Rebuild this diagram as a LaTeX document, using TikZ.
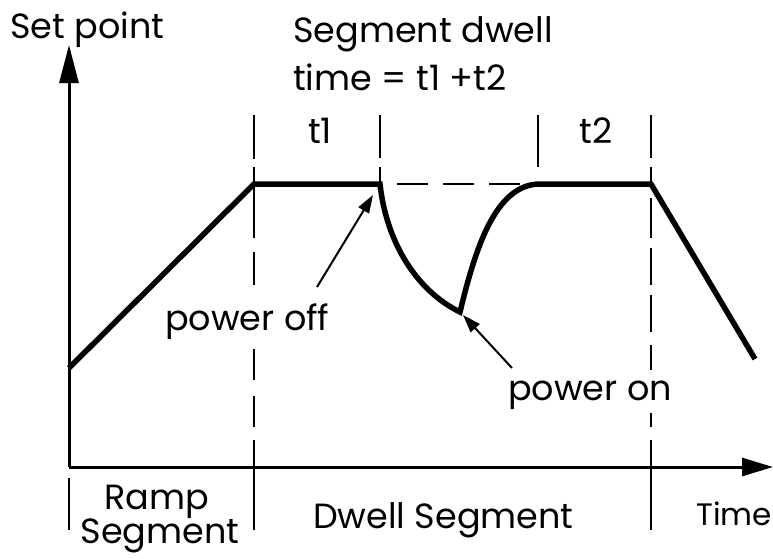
\documentclass[tikz,border=0pt]{standalone}
\usepackage{fontspec}
\setmainfont{Poppins}
\usetikzlibrary{arrows.meta}
\begin{document}
\begin{tikzpicture}[x=1pt,y=-1pt,
  lbl/.style={inner sep=0pt,font=\fontsize{35}{40}\selectfont},
  small/.style={inner sep=0pt,font=\fontsize{31}{36}\selectfont},
  curve/.style={line width=5.5pt,line join=miter,miter limit=20},
  axisline/.style={line width=3pt},
  guide/.style={line width=2.5pt},
  hdash/.style={line width=2.5pt,dash pattern=on 31pt off 15pt},
  callout/.style={line width=2pt,-{Triangle[length=18pt,width=12pt]}}]
\useasboundingbox (0,0) rectangle (773,558);
% axes
\coordinate (O) at (69,467);
\coordinate (ytip) at (69,45);
\coordinate (xtip) at (773,467);
\draw[axisline,-{Triangle[length=38pt,width=19pt]}] (O) -- (ytip);
\draw[axisline,-{Triangle[length=31pt,width=18pt]}] (O) -- (xtip);
\coordinate (rt) at (69,478);
\coordinate (rb) at (69,530);
\draw[guide] (rt) -- (rb);
% vertical guides
\foreach \a/\b in {115/159,167/238,252/285,349/380,396/427,440/530}
  \draw[guide] (254,\a) -- (254,\b);
\foreach \a/\b in {115/158,167/184}
  \draw[guide] (380,\a) -- (380,\b);
\draw[guide] (538,115) -- (538,167);
\foreach \a/\b in {115/158,167/184,198/238,248/285,295/332,345/370,413/427,440/530}
  \draw[guide] (651,\a) -- (651,\b);
% horizontal dashed
\coordinate (h1) at (397,184);
\coordinate (h2) at (522,184);
\draw[hdash] (h1) -- (h2);
% set point curve
\coordinate (c0) at (69,368);
\coordinate (c1) at (254,184);
\coordinate (c2) at (380,184);
\coordinate (c3) at (460,312);
\coordinate (c4) at (540,184);
\coordinate (c5) at (651,184);
\coordinate (c6) at (755,359);
\draw[curve] (c0) -- (c1) -- (c2) .. controls (386,240) and (415,290) .. (c3)
  .. controls (475,250) and (495,184) .. (c4) -- (c5) -- (c6);
% labels
\node[lbl,anchor=base west] (sp) at (10,38) {Set point};
\node[lbl,anchor=base west] (sd) at (293,42) {Segment dwell};
\node[lbl,anchor=base west] (tm) at (293,90) {time = t1 +t2};
\node[lbl,anchor=base] (t1) at (320,143) {t1};
\node[lbl,anchor=base] (t2) at (596,143) {t2};
\node[lbl,anchor=base west] (poff) at (165,330) {power off};
\node[lbl,anchor=base west] (pon) at (508,400) {power on};
\node[lbl,anchor=base] (ramp) at (157,509) {Ramp};
\node[lbl,anchor=base] (rseg) at (160,543) {Segment};
\node[lbl,anchor=base west] (dseg) at (313,528) {Dwell Segment};
\node[small,anchor=base east] (time) at (772,525) {Time};
% callouts
\coordinate (offtail) at (317,287);
\coordinate (offtip) at (373,195);
\coordinate (ontail) at (512,368);
\coordinate (ontip) at (463,315);
\draw[callout] (offtail) -- (offtip);
\draw[callout] (ontail) -- (ontip);
\end{tikzpicture}
\end{document}
